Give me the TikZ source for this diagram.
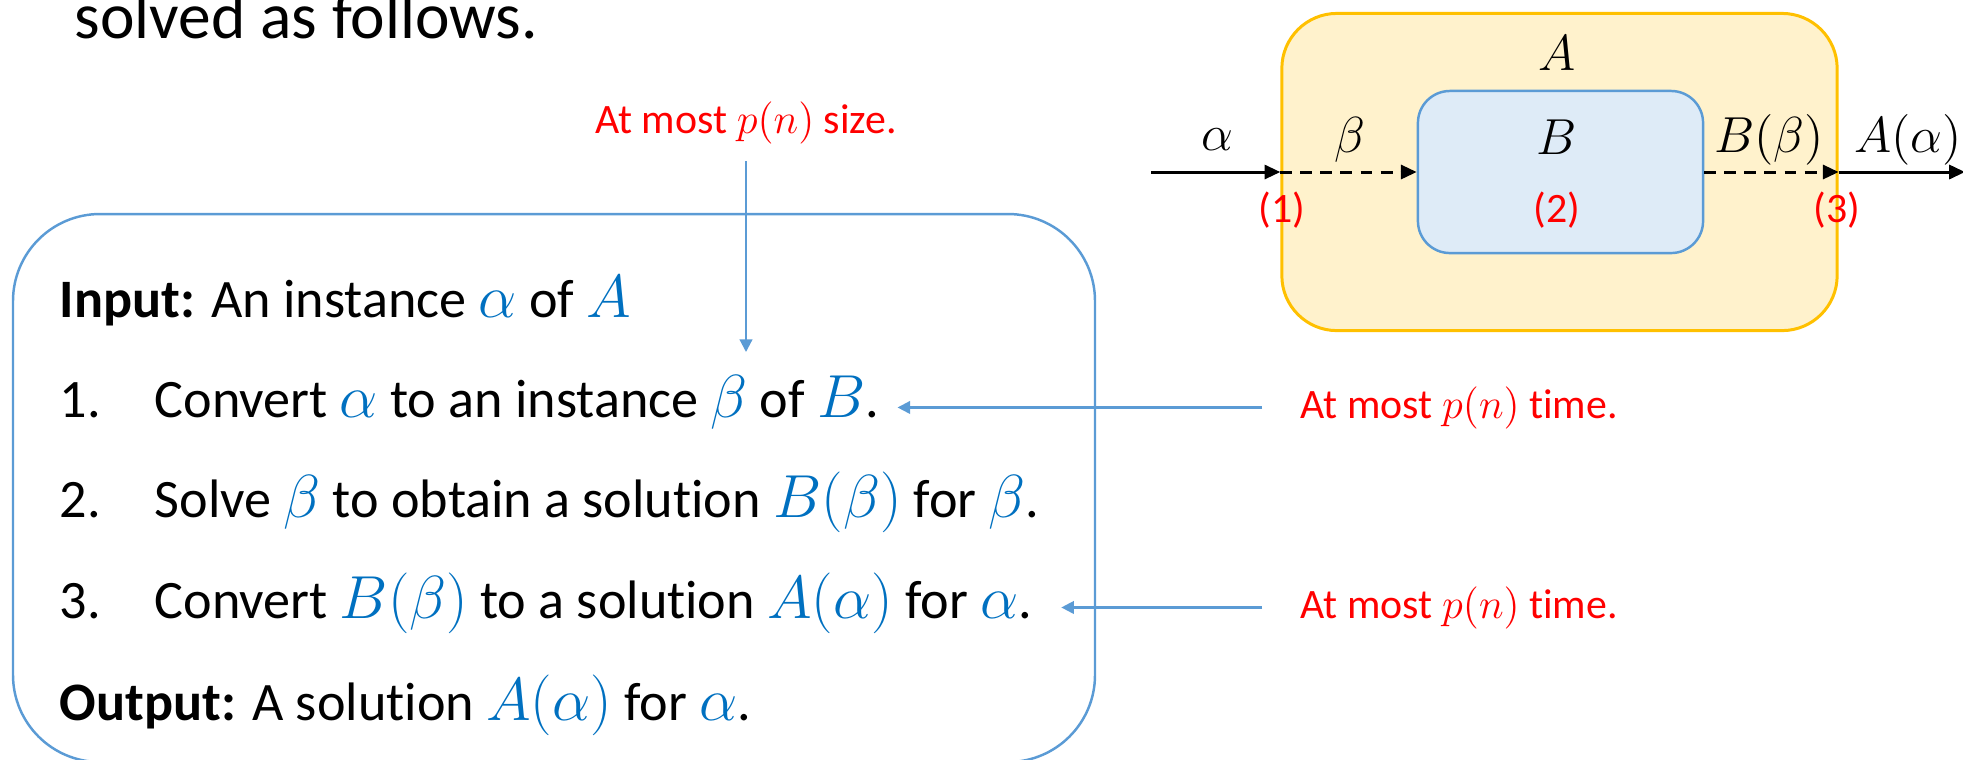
\documentclass[tikz,border=0pt]{standalone}
\usepackage{fontspec}
\setmainfont{Carlito}[Ligatures=NoCommon]
\usetikzlibrary{arrows.meta}
\definecolor{lineblue}{HTML}{5B9BD5}
\definecolor{mathblue}{HTML}{0070C0}
\definecolor{boxyellow}{HTML}{FFF2CC}
\definecolor{edgeyellow}{HTML}{FFC000}
\definecolor{boxblue}{HTML}{DEEBF7}
\definecolor{notered}{HTML}{FF0000}
\newcommand{\blu}[1]{\textcolor{mathblue}{\fontsize{17.5}{20}\selectfont$#1$}}

\begin{document}
\begin{tikzpicture}[x=0.01cm, y=-0.01cm,
        line/.style={anchor=base west, inner sep=0pt, font=\fontsize{15.4}{18}\selectfont},
        note/.style={text=notered, inner xsep=10.8pt, inner ysep=4.8pt, font=\fontsize{11.9}{14}\selectfont},
        sym/.style={font=\fontsize{15}{17}\selectfont},
        blue arrow/.style={draw=lineblue, line width=0.6pt, -{Triangle[length=3.6pt,width=3.6pt]}},
        black arrow/.style={line width=0.85pt, -{Triangle[length=4.5pt,width=4pt]}}
        ]
        \useasboundingbox (0,0) rectangle (1963,759);

        \node[line, font=\fontsize{18.6}{22}\selectfont] (title) at (74,38) {solved as follows.};

        \draw[lineblue, line width=0.7pt, rounded corners=0.87cm] (13,214) rectangle (1095,762);

        \node[line] (inp) at (59,317) {\textbf{Input:} An instance \blu{\alpha} of \blu{A}};
        \node[line] (n1) at (59,417) {1.};
        \node[line] (s1) at (154,417) {Convert \blu{\alpha} to an instance \blu{\beta} of \blu{B}.};
        \node[line] (n2) at (59,517) {2.};
        \node[line] (s2) at (154,517) {Solve \blu{\beta} to obtain a solution \blu{B(\beta)} for \blu{\beta}.};
        \node[line] (n3) at (59,618) {3.};
        \node[line] (s3) at (154,618) {Convert \blu{B(\beta)} to a solution \blu{A(\alpha)} for \blu{\alpha}.};
        \node[line] (outp) at (59,720) {\textbf{Output:} A solution \blu{A(\alpha)} for \blu{\alpha}.};

        \node[note, anchor=base] (sz) at (746,133) {At most $p(n)$ size.};
        \node[note, anchor=base west] (t1) at (1262,418) {At most $p(n)$ time.};
        \node[note, anchor=base west] (t3) at (1262,618) {At most $p(n)$ time.};
        \coordinate (szend) at (746,352);

        \draw[blue arrow] (sz.south) -- (szend);
        \draw[blue arrow, shorten >=5pt] (t1.west) -- (t1.west -| s1.east);
        \draw[blue arrow, shorten >=8pt] (t3.west) -- (t3.west -| s3.east);

        \node[draw=edgeyellow, fill=boxyellow, line width=0.85pt, rounded corners=0.55cm,
              minimum width=5.55cm, minimum height=3.17cm] (boxA) at (1559.5,172) {};
        \node[draw=lineblue, fill=boxblue, line width=0.7pt, rounded corners=0.32cm,
              minimum width=2.85cm, minimum height=1.62cm] (boxB) at (1560.5,172) {};

        \node[sym] (lA) at (1557,53) {$A$};
        \node[sym] (lB) at (1557,137) {$B$};
        \node[sym] (la) at (1217,140) {$\alpha$};
        \node[sym] (lb) at (1350,140) {$\beta$};
        \node[sym] (lBb) at (1769,140) {$B(\beta)$};
        \node[sym] (lAa) at (1908,140) {$A(\alpha)$};
        \node[note] (c1) at (1282,210) {(1)};
        \node[note] (c2) at (1557,210) {(2)};
        \node[note] (c3) at (1837,210) {(3)};

        \coordinate (src) at (1151,172);
        \coordinate (dst) at (1965,172);
        \draw[black arrow] (src) -- (boxA.west);
        \draw[black arrow, dash pattern=on 3.4pt off 2.3pt] (boxA.west) -- (boxB.west);
        \draw[black arrow, dash pattern=on 3.4pt off 2.3pt] (boxB.east) -- (boxA.east);
        \draw[black arrow] (boxA.east) -- (dst);

\end{tikzpicture}
\end{document}
